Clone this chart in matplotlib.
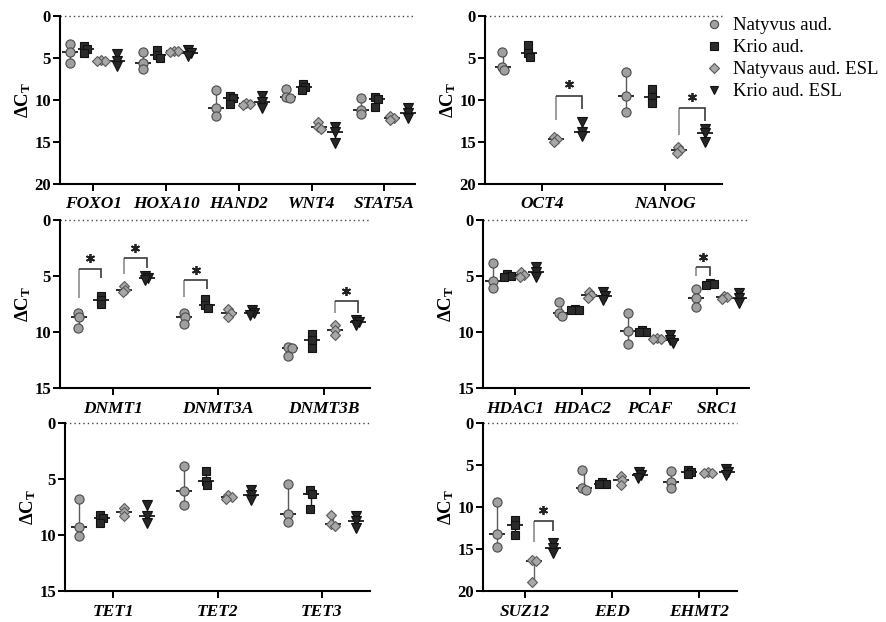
import numpy as np
import matplotlib
matplotlib.use('Agg')
import matplotlib.pyplot as plt
from matplotlib.lines import Line2D

plt.rcParams['font.family'] = ['Liberation Serif', 'DejaVu Serif']
plt.rcParams['mathtext.fontset'] = 'custom'
plt.rcParams['mathtext.rm'] = 'Liberation Serif'
plt.rcParams['mathtext.bf'] = 'Liberation Serif:bold'
plt.rcParams['mathtext.it'] = 'Liberation Serif:italic'

series_labels = ['Natyvus aud.', 'Krio aud.', 'Natyvaus aud. ESL', 'Krio aud. ESL']

# ---------------- data (delta Ct, three replicates per group) ----------------
genes_a = ['FOXO1', 'HOXA10', 'HAND2', 'WNT4', 'STAT5A']
a_nat = [[3.3, 4.25, 5.6], [4.3, 5.6, 6.3], [8.8, 10.9, 11.9], [8.7, 9.7, 9.8], [9.8, 11.2, 11.7]]
a_krio = [[3.6, 3.9, 4.4], [4.0, 4.6, 5.0], [9.5, 9.8, 10.5], [8.1, 8.5, 8.8], [9.7, 9.9, 10.8]]
a_nat_esl = [[5.2, 5.3, 5.4], [4.15, 4.2, 4.3], [10.3, 10.5, 10.6], [12.6, 13.2, 13.4], [11.9, 12.1, 12.4]]
a_krio_esl = [[4.5, 5.3, 5.9], [4.1, 4.4, 4.8], [9.5, 10.2, 10.9], [13.2, 13.8, 15.1], [11.0, 11.6, 12.2]]
a_sig = []

genes_b = ['OCT4', 'NANOG']
b_nat = [[4.33, 6.03, 6.43], [6.7, 9.52, 11.39]]
b_krio = [[3.41, 4.44, 4.84], [8.7, 9.7, 10.3]]
b_nat_esl = [[14.37, 14.68, 14.96], [15.56, 15.95, 16.27]]
b_krio_esl = [[12.58, 13.77, 14.29], [13.45, 13.97, 14.96]]
# (group, series a, series b, bracket top, left leg end, right leg end, star level)
b_sig = [(0, 2, 3, 9.5, 12.4, 11.1, 8.1), (1, 2, 3, 11.0, 14.2, 12.5, 9.7)]

genes_c = ['DNMT1', 'DNMT3A', 'DNMT3B']
c_nat = [[8.26, 8.61, 9.65], [8.26, 8.61, 9.3], [11.29, 11.38, 12.09]]
c_krio = [[6.77, 7.13, 7.51], [7.07, 7.57, 7.81], [10.16, 10.69, 11.38]]
c_nat_esl = [[5.88, 6.2, 6.44], [7.96, 8.26, 8.61], [9.36, 9.8, 10.25]]
c_krio_esl = [[4.99, 5.2, 5.35], [8.0, 8.3, 8.45], [8.91, 9.12, 9.36]]
c_sig = [(0, 0, 1, 4.37, 6.98, 5.2, 3.42), (0, 2, 3, 3.42, 4.81, 4.3, 2.52),
         (1, 0, 1, 5.38, 6.83, 6.15, 4.45), (2, 2, 3, 7.22, 8.26, 8.26, 6.33)]

genes_d = ['HDAC1', 'HDAC2', 'PCAF', 'SRC1']
d_nat = [[3.8, 5.43, 6.03], [7.28, 8.32, 8.55], [8.26, 9.89, 11.05], [6.15, 6.92, 7.75]]
d_krio = [[4.84, 4.99, 5.05], [7.96, 8.0, 8.02], [9.8, 9.95, 10.0], [5.64, 5.7, 5.79]]
d_nat_esl = [[4.66, 4.9, 5.1], [6.39, 6.7, 6.98], [10.54, 10.6, 10.63], [6.77, 6.9, 7.07]]
d_krio_esl = [[4.16, 4.66, 5.05], [6.45, 6.77, 7.13], [10.25, 10.69, 10.99], [6.53, 6.98, 7.42]]
d_sig = [(3, 0, 1, 4.16, 4.96, 4.96, 3.27)]

genes_e = ['TET1', 'TET2', 'TET3']
e_nat = [[6.74, 9.27, 10.07], [3.8, 6.03, 7.34], [5.41, 8.11, 8.85]]
e_krio = [[8.23, 8.46, 8.91], [4.31, 5.14, 5.49], [6.0, 6.33, 7.63]]
e_nat_esl = [[7.57, 7.93, 8.32], [6.45, 6.6, 6.74], [8.2, 9.0, 9.15]]
e_krio_esl = [[7.34, 8.32, 8.91], [5.94, 6.39, 6.83], [8.32, 8.76, 9.36]]
e_sig = []

genes_f = ['SUZ12', 'EED', 'EHMT2']
f_nat = [[9.43, 13.19, 14.77], [5.54, 7.72, 7.92], [5.74, 7.0, 7.72]]
f_krio = [[11.49, 12.16, 13.27], [7.0, 7.25, 7.3], [5.54, 5.82, 6.06]]
f_nat_esl = [[16.3, 16.4, 18.9], [6.34, 6.8, 7.33], [5.86, 5.9, 5.94]]
f_krio_esl = [[14.3, 14.9, 15.5], [5.86, 6.22, 6.53], [5.43, 5.82, 6.22]]
f_sig = [(0, 2, 3, 11.68, 14.14, 12.79, 10.3)]

panels = [
    (genes_a, [a_nat, a_krio, a_nat_esl, a_krio_esl], a_sig),
    (genes_b, [b_nat, b_krio, b_nat_esl, b_krio_esl], b_sig),
    (genes_c, [c_nat, c_krio, c_nat_esl, c_krio_esl], c_sig),
    (genes_d, [d_nat, d_krio, d_nat_esl, d_krio_esl], d_sig),
    (genes_e, [e_nat, e_krio, e_nat_esl, e_krio_esl], e_sig),
    (genes_f, [f_nat, f_krio, f_nat_esl, f_krio_esl], f_sig),
]

# ---------------- layout / style ----------------
W, H = 886, 622
rects = [(60, 16, 415, 184), (485, 16, 722, 184),
         (60, 220, 370, 388.3), (483, 220, 749, 388.3),
         (65, 423, 370, 591.3), (483, 423, 737, 591.3)]
xlims = [(-0.46, 4.42), (-0.467, 1.46), (-0.5, 2.44), (-0.47, 3.47), (-0.46, 2.46), (-0.48, 2.44)]
ymaxs = [20, 20, 15, 15, 15, 20]

offsets = [-0.322, -0.107, 0.107, 0.322]
markers = ['o', 's', 'D', 'v']
msizes = [6.6, 6.0, 5.2, 7.0]
fills = ['#a0a0a0', '#2b2b2b', '#a8a8a8', '#262626']
edges = ['#4a4a4a', '#111111', '#5a5a5a', '#111111']
range_cols = ['#5a5a5a', '#222222', '#666666', '#222222']


def swarm(vals, ppu_y, ppu_x, d=4.0):
    vals = np.asarray(vals, float)
    order = np.argsort(vals)
    placed = []
    xs = np.zeros(len(vals))
    for i in order:
        y = vals[i] * ppu_y
        cands = [0.0]
        for px, py in placed:
            dy = abs(y - py)
            if dy < d:
                dx = np.sqrt(d * d - dy * dy)
                cands += [px + dx, px - dx]
        cands.sort(key=abs)
        chosen = cands[0]
        for c in cands:
            if all((c - px) ** 2 + (y - py) ** 2 >= d * d - 1e-6 for px, py in placed):
                chosen = c
                break
        placed.append((chosen, y))
        xs[i] = chosen
    xs -= (xs.max() + xs.min()) / 2
    return xs / ppu_x


fig = plt.figure(figsize=(W / 100, H / 100), dpi=100)

for (genes, series, sigs), (x0, y0, x1, y1), xl, ymax in zip(panels, rects, xlims, ymaxs):
    ax = fig.add_axes([x0 / W, 1 - y1 / H, (x1 - x0) / W, (y1 - y0) / H])
    ax.set_xlim(*xl)
    ax.set_ylim(ymax, 0)
    ppu_x = (x1 - x0) / (xl[1] - xl[0])
    ppu_y = (y1 - y0) / ymax
    for s, data in enumerate(series):
        for g, vals in enumerate(data):
            v = np.asarray(vals, float)
            xc = g + offsets[s]
            ax.vlines(xc, v.min(), v.max(), color=range_cols[s], lw=1.0, zorder=2)
            ax.plot([xc], [np.median(v)], marker='_', ms=11, mew=1.4, color='#2a2a2a', zorder=2.5)
            jit = swarm(v, ppu_y, ppu_x)
            ax.plot(xc + jit, v, ls='none', marker=markers[s], ms=msizes[s],
                    mfc=fills[s], mec=edges[s], mew=0.8, zorder=3)
    for g, sa, sb, top, lb, rb, sy in sigs:
        xa, xb = g + offsets[sa], g + offsets[sb]
        ax.plot([xa, xa], [lb, top], color='#8a8a8a', lw=1.2, zorder=2, solid_capstyle='butt')
        ax.plot([xa, xb, xb], [top, top, rb], color='#3a3a3a', lw=1.2, zorder=2,
                solid_joinstyle='miter', solid_capstyle='butt')
        ax.plot([(xa + xb) / 2], [sy], marker=(6, 2, 0), ms=6.5, mew=1.3, color='#222222', zorder=3)

    ax.axhline(0, color='#444444', lw=1.0, ls=(0, (1, 2.2)), clip_on=False, zorder=1)
    for sp in ['top', 'right']:
        ax.spines[sp].set_visible(False)
    for sp in ['left', 'bottom']:
        ax.spines[sp].set_linewidth(1.5)
    ax.set_yticks(range(0, ymax + 1, 5))
    ax.set_xticks(range(len(genes)))
    ax.set_xticklabels(genes, fontstyle='italic', fontweight='bold', fontsize=12.5)
    ax.tick_params(axis='both', direction='out', width=1.4, length=5)
    ax.tick_params(axis='x', pad=4)
    ax.tick_params(axis='y', labelsize=12, pad=1.5)
    for lbl in ax.get_yticklabels():
        lbl.set_fontweight('bold')
    ax.set_ylabel('ΔC$_{\\mathbf{T}}$', fontsize=13.5, fontweight='bold', labelpad=1)

handles = [Line2D([], [], ls='none', marker=markers[s], ms=msizes[s] * 0.9,
                  mfc=fills[s], mec=edges[s], mew=0.8) for s in range(4)]
fig.legend(handles, series_labels, loc='upper left', bbox_to_anchor=(705 / W, 1 - 17 / H),
           frameon=False, fontsize=13.5, handlelength=1.0, handletextpad=0.5,
           labelspacing=0.26, borderpad=0, borderaxespad=0)

fig.savefig('out.png', dpi=100)
